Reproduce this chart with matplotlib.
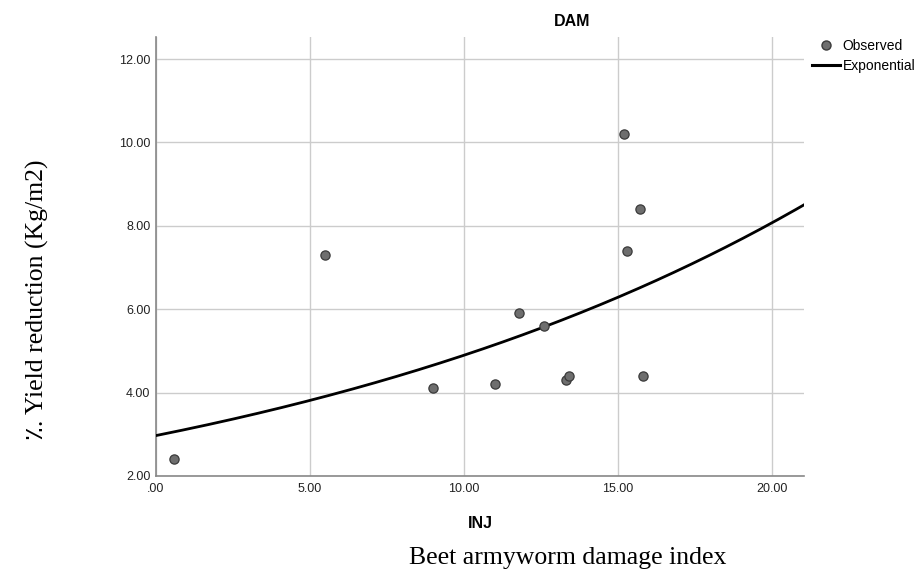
import numpy as np
import matplotlib
matplotlib.use('Agg')
import matplotlib.pyplot as plt
from matplotlib.ticker import FuncFormatter
from matplotlib.lines import Line2D

# observed points (INJ vs DAM)
inj = [0.6, 5.5, 9.0, 11.0, 11.8, 12.6, 13.3, 13.4, 15.2, 15.3, 15.7, 15.8]
dam = [2.4, 7.3, 4.1, 4.2, 5.9, 5.6, 4.3, 4.4, 10.2, 7.4, 8.4, 4.4]

# exponential fit: DAM = a * exp(b * INJ)
fit_a = 2.97
fit_b = 0.0500

x_ticks = [0, 5, 10, 15, 20]
y_ticks = [2, 4, 6, 8, 10, 12]

plt.rcParams['font.family'] = ['Liberation Sans', 'DejaVu Sans']

fig = plt.figure(figsize=(9.17, 5.76), dpi=100)
ax = fig.add_axes([156 / 917, 1 - 476 / 576, (804 - 156) / 917, (476 - 37) / 576])

xs = np.linspace(0, 21.04, 300)
ax.plot(xs, fit_a * np.exp(fit_b * xs), color='black', linewidth=2, zorder=3)
ax.scatter(inj, dam, s=44, color='#6e6e6e', edgecolor='#3a3a3a', linewidth=0.9, zorder=4)

ax.set_xlim(0, 21.04)
ax.set_ylim(2, 12.53)
ax.set_xticks(x_ticks)
ax.set_yticks(y_ticks)


def fmt(v, pos):
    s = '{:.2f}'.format(v)
    return s[1:] if s.startswith('0.') else s


ax.xaxis.set_major_formatter(FuncFormatter(fmt))
ax.yaxis.set_major_formatter(FuncFormatter(fmt))
ax.tick_params(length=0, labelsize=9, colors='#222222')
ax.tick_params(axis='x', pad=5)
ax.tick_params(axis='y', pad=4)
ax.grid(True, color='#cccccc', linewidth=1)
ax.set_axisbelow(True)
for side in ['top', 'right']:
    ax.spines[side].set_visible(False)
for side in ['left', 'bottom']:
    ax.spines[side].set_color('#888888')
    ax.spines[side].set_linewidth(1.2)

fig.text(572 / 917, 1 - 22 / 576, 'DAM', ha='center', va='center', fontsize=11.5, fontweight='bold')
fig.text(480 / 917, 1 - 523 / 576, 'INJ', ha='center', va='center', fontsize=11.5, fontweight='bold')
fig.text(568 / 917, 1 - 558 / 576, 'Beet armyworm damage index', ha='center', va='center',
         fontsize=18.5, family=['Liberation Serif', 'DejaVu Serif'])
fig.text(37 / 917, 1 - 300 / 576, '٪. Yield reduction (Kg/m2)', ha='center', va='center',
         rotation=90, fontsize=18.5, family=['Liberation Serif', 'DejaVu Sans'])

handles = [Line2D([], [], marker='o', linestyle='none', markersize=6.5, markerfacecolor='#6e6e6e',
                  markeredgecolor='#3a3a3a'),
           Line2D([], [], color='black', linewidth=2.2)]
fig.legend(handles, ['Observed', 'Exponential'], loc='upper left', bbox_to_anchor=(812 / 917, 1 - 39 / 576),
           frameon=False, fontsize=10, handlelength=2.0, handletextpad=0.2, labelspacing=0.45,
           borderpad=0, borderaxespad=0)

fig.savefig('out.png', dpi=100)
